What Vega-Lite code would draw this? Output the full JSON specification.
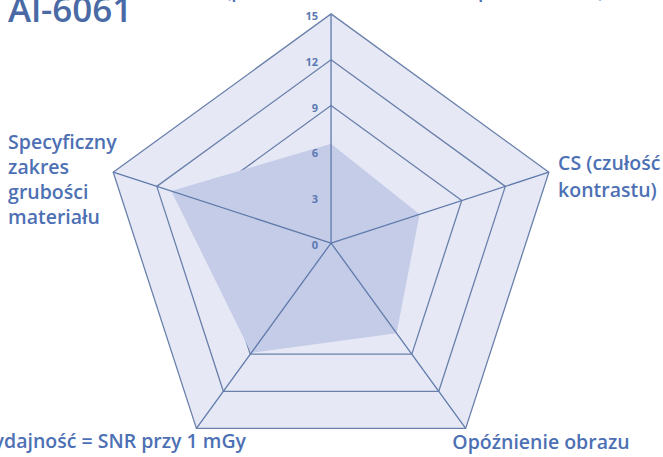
{
  "$schema": "https://vega.github.io/schema/vega-lite/v6.json",
  "width": 663,
  "height": 457,
  "autosize": "none",
  "padding": 0,
  "background": "white",
  "config": {"view": {"stroke": null}, "text": {"font": "Open Sans", "fontWeight": 600, "color": "#4d70b4"}},
  "datasets": {
    "scores": [
      {"axis": "SRb (podstawowa rozdzielczość przestrzenna)", "k": 0, "value": 6.5},
      {"axis": "CS (czułość kontrastu)", "k": 1, "value": 6.1},
      {"axis": "Opóźnienie obrazu", "k": 2, "value": 7.3},
      {"axis": "Wydajność = SNR przy 1 mGy", "k": 3, "value": 8.9},
      {"axis": "Specyficzny zakres grubości materiału", "k": 4, "value": 11.0}
    ],
    "rings": [
      {"level": 9, "k": 0}, {"level": 9, "k": 1}, {"level": 9, "k": 2}, {"level": 9, "k": 3}, {"level": 9, "k": 4},
      {"level": 12, "k": 0}, {"level": 12, "k": 1}, {"level": 12, "k": 2}, {"level": 12, "k": 3}, {"level": 12, "k": 4},
      {"level": 15, "k": 0}, {"level": 15, "k": 1}, {"level": 15, "k": 2}, {"level": 15, "k": 3}, {"level": 15, "k": 4}
    ],
    "ticks": [
      {"tick": 0}, {"tick": 3}, {"tick": 6}, {"tick": 9}, {"tick": 12}, {"tick": 15}
    ]
  },
  "layer": [
    {
      "data": {"name": "rings"},
      "transform": [
        {"filter": "datum.level == 15"},
        {"calculate": "datum.level * sin(datum.k * 2 * PI / 5)", "as": "px"},
        {"calculate": "datum.level * cos(datum.k * 2 * PI / 5)", "as": "py"}
      ],
      "mark": {"type": "line", "interpolate": "linear-closed", "fill": "#e6e9f5", "stroke": "#6a80ab", "strokeWidth": 1.3},
      "encoding": {
        "x": {"field": "px", "type": "quantitative", "scale": {"domain": [-21.68, 21.74], "nice": false, "zero": false}, "axis": null},
        "y": {"field": "py", "type": "quantitative", "scale": {"domain": [-14.01, 15.91], "nice": false, "zero": false}, "axis": null},
        "order": {"field": "k", "type": "quantitative"}
      }
    },
    {
      "data": {"name": "rings"},
      "transform": [
        {"filter": "datum.level < 15"},
        {"calculate": "datum.level * sin(datum.k * 2 * PI / 5)", "as": "px"},
        {"calculate": "datum.level * cos(datum.k * 2 * PI / 5)", "as": "py"}
      ],
      "mark": {"type": "line", "interpolate": "linear-closed", "stroke": "#6a80ab", "strokeWidth": 1.3},
      "encoding": {
        "x": {"field": "px", "type": "quantitative", "axis": null},
        "y": {"field": "py", "type": "quantitative", "axis": null},
        "detail": {"field": "level", "type": "nominal"},
        "order": {"field": "k", "type": "quantitative"}
      }
    },
    {
      "data": {"name": "scores"},
      "transform": [
        {"calculate": "datum.value * sin(datum.k * 2 * PI / 5)", "as": "px"},
        {"calculate": "datum.value * cos(datum.k * 2 * PI / 5)", "as": "py"}
      ],
      "mark": {"type": "line", "interpolate": "linear-closed", "fill": "#c5cce7", "strokeWidth": 0, "strokeOpacity": 0},
      "encoding": {
        "x": {"field": "px", "type": "quantitative", "axis": null},
        "y": {"field": "py", "type": "quantitative", "axis": null},
        "order": {"field": "k", "type": "quantitative"}
      }
    },
    {
      "data": {"name": "scores"},
      "transform": [
        {"calculate": "0", "as": "cx"},
        {"calculate": "15 * sin(datum.k * 2 * PI / 5)", "as": "ex"},
        {"calculate": "15 * cos(datum.k * 2 * PI / 5)", "as": "ey"}
      ],
      "mark": {"type": "rule", "stroke": "#5f7aab", "strokeWidth": 1.3},
      "encoding": {
        "x": {"field": "cx", "type": "quantitative", "axis": null},
        "y": {"field": "cx", "type": "quantitative", "axis": null},
        "x2": {"field": "ex"},
        "y2": {"field": "ey"}
      }
    },
    {
      "data": {"name": "ticks"},
      "transform": [{"calculate": "0", "as": "cx"}],
      "mark": {"type": "text", "align": "right", "baseline": "middle", "dx": -13, "dy": 3, "fontSize": 11, "fontWeight": 700, "color": "#5b79b2"},
      "encoding": {
        "x": {"field": "cx", "type": "quantitative", "axis": null},
        "y": {"field": "tick", "type": "quantitative", "axis": null},
        "text": {"field": "tick", "type": "quantitative"}
      }
    },
    {
      "data": {"values": [{"label": "Specyficzny\nzakres\ngrubości\nmateriału", "lx": -21.15, "ly": 6.16}]},
      "mark": {"type": "text", "align": "left", "baseline": "alphabetic", "lineBreak": "\n", "lineHeight": 25, "fontSize": 19.5},
      "encoding": {
        "x": {"field": "lx", "type": "quantitative", "axis": null},
        "y": {"field": "ly", "type": "quantitative", "axis": null},
        "text": {"field": "label", "type": "nominal"}
      }
    },
    {
      "data": {"values": [{"label": "CS (czułość\nkontrastu)", "lx": 14.87, "ly": 4.78}]},
      "mark": {"type": "text", "align": "left", "baseline": "alphabetic", "lineBreak": "\n", "lineHeight": 27, "fontSize": 19.5},
      "encoding": {
        "x": {"field": "lx", "type": "quantitative", "axis": null},
        "y": {"field": "ly", "type": "quantitative", "axis": null},
        "text": {"field": "label", "type": "nominal"}
      }
    },
    {
      "data": {"values": [{"label": "Wydajność = SNR przy 1 mGy", "lx": -5.57, "ly": -13.42}]},
      "mark": {"type": "text", "align": "right", "baseline": "alphabetic", "fontSize": 19.5},
      "encoding": {
        "x": {"field": "lx", "type": "quantitative", "axis": null},
        "y": {"field": "ly", "type": "quantitative", "axis": null},
        "text": {"field": "label", "type": "nominal"}
      }
    },
    {
      "data": {"values": [{"label": "Opóźnienie obrazu", "lx": 13.75, "ly": -13.49}]},
      "mark": {"type": "text", "align": "center", "baseline": "alphabetic", "fontSize": 19.5},
      "encoding": {
        "x": {"field": "lx", "type": "quantitative", "axis": null},
        "y": {"field": "ly", "type": "quantitative", "axis": null},
        "text": {"field": "label", "type": "nominal"}
      }
    },
    {
      "data": {"values": [{"label": "SRb (podstawowa rozdzielczość przestrzenna)", "lx": 4.19, "ly": 16.12}]},
      "mark": {"type": "text", "align": "center", "baseline": "alphabetic", "fontSize": 19},
      "encoding": {
        "x": {"field": "lx", "type": "quantitative", "axis": null},
        "y": {"field": "ly", "type": "quantitative", "axis": null},
        "text": {"field": "label", "type": "nominal"}
      }
    },
    {
      "data": {"values": [{"label": "Al-6061", "lx": -21.15, "ly": 14.47}]},
      "mark": {"type": "text", "align": "left", "baseline": "alphabetic", "fontSize": 35, "fontWeight": 600, "color": "#4a6aa6"},
      "encoding": {
        "x": {"field": "lx", "type": "quantitative", "axis": null},
        "y": {"field": "ly", "type": "quantitative", "axis": null},
        "text": {"field": "label", "type": "nominal"}
      }
    }
  ]
}
